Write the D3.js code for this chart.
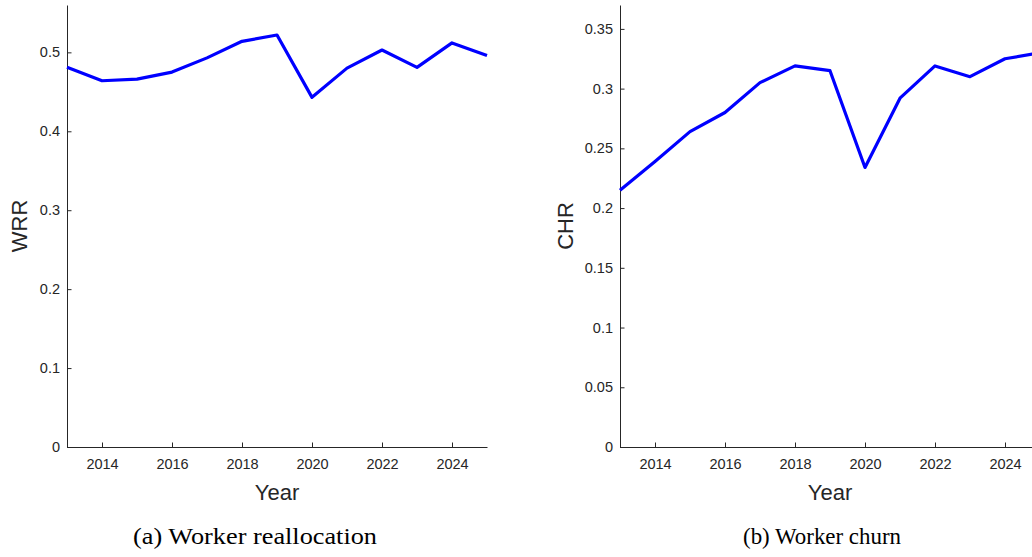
<!DOCTYPE html>
<html>
<head>
<meta charset="utf-8">
<script src="https://cdn.jsdelivr.net/npm/d3@7"></script>
<style>
  body { margin: 0; background: #fff; }
  svg { display: block; }
  .tick text { font-family: "Liberation Sans", Arial, sans-serif; font-size: 14.5px; fill: #262626; }
</style>
</head>
<body>
<svg id="chart" width="1032" height="557"></svg>
<script>
// years on the x axis
const years = [2013, 2014, 2015, 2016, 2017, 2018, 2019, 2020, 2021, 2022, 2023, 2024, 2025];
// worker reallocation rate
const wrr = [0.481, 0.464, 0.466, 0.475, 0.493, 0.514, 0.522, 0.443, 0.480, 0.503, 0.481, 0.512, 0.496];
// worker churn rate
const chr = [0.215, 0.239, 0.264, 0.280, 0.305, 0.319, 0.315, 0.234, 0.292, 0.319, 0.310, 0.325, 0.330];

const xTicks = [2014, 2016, 2018, 2020, 2022, 2024];
const wrrTicks = [0, 0.1, 0.2, 0.3, 0.4, 0.5];
const chrTicks = [0, 0.05, 0.1, 0.15, 0.2, 0.25, 0.3, 0.35];

const svg = d3.select("#chart");

const panels = [
  {values: wrr, yMax: 0.56, yTicks: wrrTicks, yLabel: "WRR", x0: 67, labelX: 27,
   caption: "(a) Worker reallocation", capX: 255, capW: 244},
  {values: chr, yMax: 0.37, yTicks: chrTicks, yLabel: "CHR", x0: 620, labelX: 573,
   caption: "(b) Worker churn", capX: 822, capW: 158}
];

const plotW = 420, plotTop = 5, plotBottom = 447;

panels.forEach(p => {
  let xScale = d3.scaleLinear().domain([2013, 2025]).range([p.x0, p.x0 + plotW]);
  let yScale = d3.scaleLinear().domain([0, p.yMax]).range([plotBottom, plotTop]);

  let g = svg.append("g");

  let xAxis = d3.axisBottom(xScale).tickValues(xTicks).tickFormat(d3.format("d"))
                .tickSizeInner(-4.5).tickSizeOuter(0).tickPadding(12);
  let yAxis = d3.axisLeft(yScale).tickValues(p.yTicks).tickFormat(d3.format("~g"))
                .tickSizeInner(-4.5).tickSizeOuter(0).tickPadding(7);

  g.append("g").attr("transform", "translate(0," + plotBottom + ")").call(xAxis);
  g.append("g").attr("transform", "translate(" + p.x0 + ",0)").call(yAxis);
  g.selectAll(".domain, .tick line").attr("stroke", "#262626");

  let line = d3.line().x((d, i) => xScale(years[i])).y(d => yScale(d));

  g.append("path")
    .attr("d", line(p.values))
    .attr("fill", "none")
    .attr("stroke", "#0000ff")
    .attr("stroke-width", 3.2)
    .attr("stroke-linejoin", "round");

  g.append("text")
    .attr("transform", "translate(" + p.labelX + "," + ((plotTop + plotBottom) / 2) + ") rotate(-90)")
    .attr("text-anchor", "middle")
    .style("font-family", "Liberation Sans, Arial, sans-serif")
    .style("font-size", "22px")
    .attr("fill", "#262626")
    .text(p.yLabel);

  g.append("text")
    .attr("x", p.x0 + plotW / 2)
    .attr("y", 500)
    .attr("text-anchor", "middle")
    .style("font-family", "Liberation Sans, Arial, sans-serif")
    .style("font-size", "22px")
    .attr("fill", "#262626")
    .text("Year");

  g.append("text")
    .attr("x", p.capX - p.capW / 2)
    .attr("y", 544)
    .attr("textLength", p.capW)
    .attr("lengthAdjust", "spacingAndGlyphs")
    .style("font-family", "Liberation Serif, 'Times New Roman', serif")
    .style("font-size", "24px")
    .attr("fill", "#000")
    .text(p.caption);
});
</script>
</body>
</html>
